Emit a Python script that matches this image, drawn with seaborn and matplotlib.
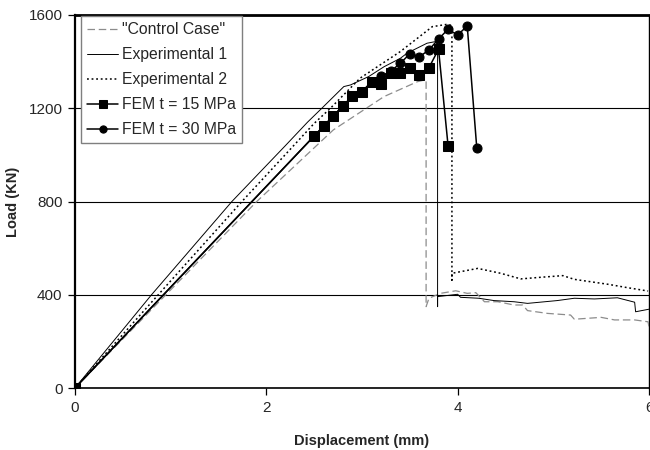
import numpy as np
import pandas as pd
import matplotlib
matplotlib.use("Agg")
import matplotlib.pyplot as plt
import seaborn as sns

# ---- data ----
control_x = [0, 1.90, 2.70, 3.23, 3.58, 3.65, 3.67, 3.67, 3.70, 3.82, 3.98, 4.10, 4.19, 4.28,
             4.42, 4.59, 4.68, 4.73, 4.94, 5.18, 5.22, 5.50, 5.64, 5.85, 5.99, 6.0]
control_y = [0, 800, 1107, 1250, 1314, 1321, 1320, 349, 385, 406, 417, 406, 409, 370,
             370, 356, 356, 332, 320, 313, 295, 303, 292, 292, 284, 262]

exp1_x = [0, 0.80, 1.64, 2.20, 2.43, 2.58, 2.81, 2.88, 3.07, 3.23, 3.40, 3.47, 3.68, 3.77,
          3.79, 3.79, 3.79, 4.00, 4.03, 4.22, 4.38, 4.59, 4.73, 5.04, 5.22, 5.43, 5.67,
          5.85, 5.86, 6.0]
exp1_y = [0, 400, 800, 1040, 1140, 1200, 1293, 1300, 1336, 1378, 1414, 1436, 1479, 1486,
          1470, 349, 392, 402, 389, 385, 375, 370, 363, 375, 385, 382, 387,
          368, 327, 338]

exp2_x = [0, 0.87, 1.745, 2.50, 2.67, 2.98, 3.40, 3.735, 3.89, 3.94, 3.94, 3.94, 4.21,
          4.45, 4.66, 4.87, 5.10, 5.22, 5.57, 5.78, 5.99]
exp2_y = [0, 400, 800, 1135, 1200, 1329, 1443, 1550, 1560, 1555, 463, 492, 513,
          492, 468, 475, 482, 466, 445, 430, 416]

fem15_x = [0, 2.5, 2.6, 2.7, 2.8, 2.9, 3.0, 3.1, 3.2, 3.3, 3.4, 3.5, 3.6, 3.7, 3.8, 3.9]
fem15_y = [0, 1081, 1124, 1167, 1210, 1252, 1271, 1313, 1303, 1350, 1353, 1372, 1341,
           1374, 1453, 1038]

fem30_x = [0, 2.5, 2.6, 2.7, 2.8, 2.9, 3.0, 3.1, 3.2, 3.3, 3.4, 3.5, 3.6, 3.7, 3.8, 3.9,
           4.0, 4.1, 4.2]
fem30_y = [0, 1081, 1124, 1167, 1210, 1252, 1271, 1313, 1338, 1358, 1393, 1433, 1421,
           1450, 1497, 1539, 1514, 1553, 1028]

labels = ['"Control Case"', "Experimental 1", "Experimental 2",
          "FEM t = 15 MPa", "FEM t = 30 MPa"]
x_ticks = [0, 2, 4, 6]
y_ticks = [0, 400, 800, 1200, 1600]

sns.set_style("white")
plt.rcParams["font.family"] = ["Liberation Sans", "DejaVu Sans"]

fig = plt.figure(figsize=(6.5, 4.5), dpi=100)
ax = fig.add_axes([75 / 650, 1 - 388 / 450, 574 / 650, 373 / 450])

common = dict(ax=ax, sort=False, estimator=None)
sns.lineplot(x=control_x, y=control_y, color="#8c8c8c", lw=0.9,
             dashes=False, linestyle=(0, (6, 3)), label=labels[0], zorder=3, **common)
sns.lineplot(x=exp1_x, y=exp1_y, color="black", lw=0.7, label=labels[1], zorder=3, **common)
sns.lineplot(x=exp2_x, y=exp2_y, color="black", lw=1.1, linestyle=(0, (1.2, 1.8)),
             label=labels[2], zorder=3, **common)
sns.lineplot(x=fem30_x, y=fem30_y, color="black", lw=1.1, marker="o", markersize=6.5,
             markeredgecolor="black", label=labels[4], zorder=4, **common)
sns.lineplot(x=fem15_x, y=fem15_y, color="black", lw=1.1, marker="s", markersize=6.5,
             markeredgecolor="black", label=labels[3], zorder=5, **common)

ax.set_xlim(0, 6)
ax.set_ylim(0, 1600)
ax.set_xticks(x_ticks)
ax.set_yticks(y_ticks)
ax.set_xticklabels([str(t) for t in x_ticks], fontsize=11)
ax.set_yticklabels([str(t) for t in y_ticks], fontsize=11)
ax.tick_params(axis="both", direction="out", length=5, width=0.9, color="black",
               bottom=True, left=True, pad=4)
ax.yaxis.grid(True, color="black", lw=0.8)
ax.xaxis.grid(False)
ax.set_axisbelow(True)

for side, lw in [("top", 2.0), ("left", 1.6), ("bottom", 1.2), ("right", 1.0)]:
    ax.spines[side].set_visible(True)
    ax.spines[side].set_color("black")
    ax.spines[side].set_linewidth(lw)

ax.set_xlabel("Displacement (mm)", fontsize=10.5, fontweight="bold", labelpad=14)
ax.set_ylabel("Load (KN)", fontsize=10.5, fontweight="bold", labelpad=6)

handles, labs = ax.get_legend_handles_labels()
order = [labs.index(l) for l in labels]
leg = ax.legend([handles[i] for i in order], [labs[i] for i in order],
                loc="upper left", bbox_to_anchor=(81 / 650, 1 - 16.5 / 450),
                bbox_transform=fig.transFigure, borderaxespad=0, fontsize=11.3,
                frameon=True, fancybox=False, framealpha=1, edgecolor="#7f7f7f",
                handlelength=2.0, handletextpad=0.25, labelspacing=0.63,
                borderpad=0.38, markerscale=0.8)
leg.get_frame().set_linewidth(1.0)
leg.set_zorder(10)

fig.savefig("out.png", dpi=100)
